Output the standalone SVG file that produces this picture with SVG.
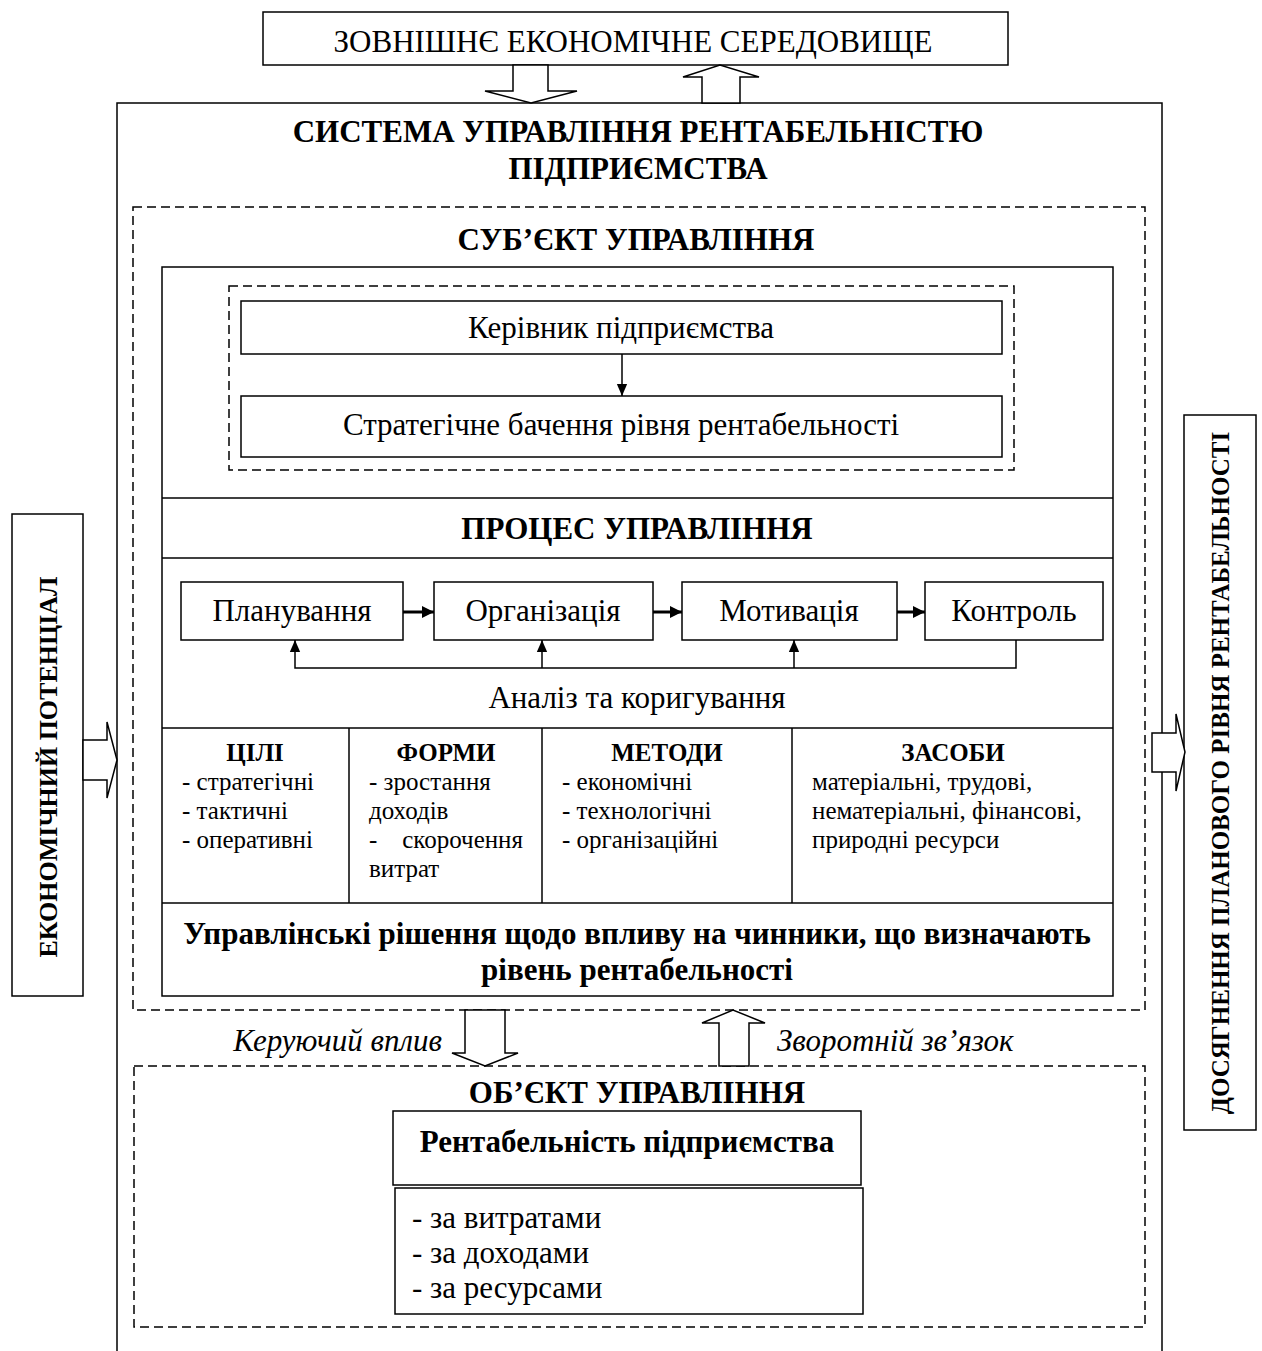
<svg xmlns="http://www.w3.org/2000/svg" width="1262" height="1351" viewBox="0 0 1262 1351">
<defs>
<style>
text{font-family:"Liberation Serif","Times New Roman",serif;fill:#000}
.box{fill:#fff;stroke:#000;stroke-width:1.5}
.nofill{fill:none;stroke:#000;stroke-width:1.5}
.dash{fill:none;stroke:#000;stroke-width:1.5;stroke-dasharray:9 5}
.line{fill:none;stroke:#000;stroke-width:1.5}
.big{font-size:31px;text-anchor:middle}
.hb{font-size:31px;font-weight:bold;text-anchor:middle}
.t{font-size:31px;text-anchor:middle}
.ts{font-size:31px}
.tb{font-size:31px;font-weight:bold;text-anchor:middle}
.c{font-size:25px}
.ch{font-size:25px;font-weight:bold;text-anchor:middle}
.it{font-size:31px;font-style:italic}
.vert{font-size:26px;font-weight:bold;text-anchor:middle}
.vert2{font-size:25px;font-weight:bold;text-anchor:middle}
.harrow{fill:#fff;stroke:#000;stroke-width:1.5;stroke-linejoin:miter}
</style>
<marker id="ah" markerUnits="userSpaceOnUse" markerWidth="12" markerHeight="16" refX="14" refY="6" viewBox="0 0 14 12" orient="auto">
<path d="M0,0 L14,6 L0,12 z" fill="#000"/>
</marker>
<marker id="ahs" markerUnits="userSpaceOnUse" markerWidth="12" markerHeight="14" refX="12" refY="6" viewBox="0 0 12 12" orient="auto">
<path d="M0,0 L12,6 L0,12 z" fill="#000"/>
</marker>
</defs>

<g id="outer-system">
<rect class="nofill" x="117" y="103" width="1045" height="1270"/>
<text class="hb" x="638" y="142">СИСТЕМА УПРАВЛІННЯ РЕНТАБЕЛЬНІСТЮ</text>
<text class="hb" x="638" y="179">ПІДПРИЄМСТВА</text>
</g>

<g id="external-env">
<rect class="box" x="263" y="12" width="745" height="53"/>
<text class="big" x="633" y="52">ЗОВНІШНЄ ЕКОНОМІЧНЕ СЕРЕДОВИЩЕ</text>
</g>

<g id="subject">
<rect class="dash" x="133" y="207" width="1012" height="803"/>
<text class="hb" x="636" y="250">СУБ’ЄКТ УПРАВЛІННЯ</text>
<rect class="box" x="162" y="267" width="951" height="729"/>
<rect class="dash" x="229" y="286" width="785" height="184"/>
<line class="line" x1="162" y1="498" x2="1113" y2="498"/>
<line class="line" x1="162" y1="558" x2="1113" y2="558"/>
<line class="line" x1="162" y1="728" x2="1113" y2="728"/>
<line class="line" x1="162" y1="903" x2="1113" y2="903"/>
<line class="line" x1="349" y1="728" x2="349" y2="903"/>
<line class="line" x1="542" y1="728" x2="542" y2="903"/>
<line class="line" x1="792" y1="728" x2="792" y2="903"/>
<text class="hb" x="637" y="539">ПРОЦЕС УПРАВЛІННЯ</text>
<text class="t" x="637" y="708">Аналіз та коригування</text>
<text class="tb" x="637" y="944">Управлінські рішення щодо впливу на чинники, що визначають</text>
<text class="tb" x="637" y="980">рівень рентабельності</text>
</g>

<g id="manager">
<rect class="box" x="241" y="301" width="761" height="53"/>
<text class="t" x="621" y="338">Керівник підприємства</text>
</g>

<g id="vision">
<rect class="box" x="241" y="396" width="761" height="61"/>
<text class="t" x="621" y="435">Стратегічне бачення рівня рентабельності</text>
</g>

<g id="planning">
<rect class="box" x="181" y="582" width="222" height="58"/>
<text class="t" x="292" y="621">Планування</text>
</g>
<g id="organization">
<rect class="box" x="434" y="582" width="219" height="58"/>
<text class="t" x="543" y="621">Організація</text>
</g>
<g id="motivation">
<rect class="box" x="682" y="582" width="215" height="58"/>
<text class="t" x="789" y="621">Мотивація</text>
</g>
<g id="control">
<rect class="box" x="925" y="582" width="178" height="58"/>
<text class="t" x="1014" y="621">Контроль</text>
</g>

<g id="goals">
<text class="ch" x="255" y="761">ЦІЛІ</text>
<text class="c" x="182" y="790">- стратегічні</text>
<text class="c" x="182" y="819">- тактичні</text>
<text class="c" x="182" y="848">- оперативні</text>
</g>
<g id="forms">
<text class="ch" x="446" y="761">ФОРМИ</text>
<text class="c" x="369" y="790">- зростання</text>
<text class="c" x="369" y="819">доходів</text>
<text class="c" x="369" y="848">-</text>
<text class="c" x="523" y="848" text-anchor="end">скорочення</text>
<text class="c" x="369" y="877">витрат</text>
</g>
<g id="methods">
<text class="ch" x="667" y="761">МЕТОДИ</text>
<text class="c" x="562" y="790">- економічні</text>
<text class="c" x="562" y="819">- технологічні</text>
<text class="c" x="562" y="848">- організаційні</text>
</g>
<g id="means">
<text class="ch" x="953" y="761">ЗАСОБИ</text>
<text class="c" x="812" y="790">матеріальні, трудові,</text>
<text class="c" x="812" y="819">нематеріальні, фінансові,</text>
<text class="c" x="812" y="848">природні ресурси</text>
</g>

<g id="object">
<rect class="dash" x="134" y="1066" width="1011" height="261"/>
<text class="hb" x="637" y="1103">ОБ’ЄКТ УПРАВЛІННЯ</text>
</g>
<g id="profitability">
<rect class="box" x="393" y="1111" width="468" height="74"/>
<text class="tb" x="627" y="1152">Рентабельність підприємства</text>
</g>
<g id="profit-types">
<rect class="box" x="395" y="1188" width="468" height="126"/>
<text class="ts" x="412" y="1228">- за витратами</text>
<text class="ts" x="412" y="1263">- за доходами</text>
<text class="ts" x="412" y="1298">- за ресурсами</text>
</g>

<g id="economic-potential">
<rect class="box" x="12" y="514" width="71" height="482"/>
<text class="vert" transform="translate(57,767) rotate(-90)">ЕКОНОМІЧНИЙ ПОТЕНЦІАЛ</text>
</g>

<g id="planned-level">
<rect class="box" x="1184" y="415" width="72" height="715"/>
<text class="vert2" transform="translate(1229,773) rotate(-90)">ДОСЯГНЕННЯ ПЛАНОВОГО РІВНЯ РЕНТАБЕЛЬНОСТІ</text>
</g>

<g id="connectors">
<polygon class="harrow" points="513,65 548,65 548,91 577,91 531,103 485,91 513,91"/>
<polygon class="harrow" points="702,103 740,103 740,77 759,77 720,65 683,77 702,77"/>
<line class="line" x1="622" y1="354" x2="622" y2="396" marker-end="url(#ah)"/>
<line x1="403" y1="612" x2="434" y2="612" stroke="#000" stroke-width="3" marker-end="url(#ahs)"/>
<line x1="653" y1="612" x2="682" y2="612" stroke="#000" stroke-width="3" marker-end="url(#ahs)"/>
<line x1="897" y1="612" x2="925" y2="612" stroke="#000" stroke-width="3" marker-end="url(#ahs)"/>
<polyline class="line" points="1016,640 1016,668 295,668 295,640" marker-end="url(#ah)"/>
<line class="line" x1="542" y1="668" x2="542" y2="640" marker-end="url(#ah)"/>
<line class="line" x1="794" y1="668" x2="794" y2="640" marker-end="url(#ah)"/>
<polygon class="harrow" points="465,1010 505,1010 505,1053 518,1053 485,1066 452,1053 465,1053"/>
<polygon class="harrow" points="719,1066 749,1066 749,1023 765,1023 733,1010 702,1023 719,1023"/>
<polygon class="harrow" points="83,740 107,740 107,722 117,760 107,798 107,780 83,780"/>
<polygon class="harrow" points="1152,733 1176,733 1176,714 1185,752 1176,791 1176,772 1152,772"/>
<text class="it" x="442" y="1051" text-anchor="end">Керуючий вплив</text>
<text class="it" x="777" y="1051">Зворотній зв’язок</text>
</g>
</svg>
